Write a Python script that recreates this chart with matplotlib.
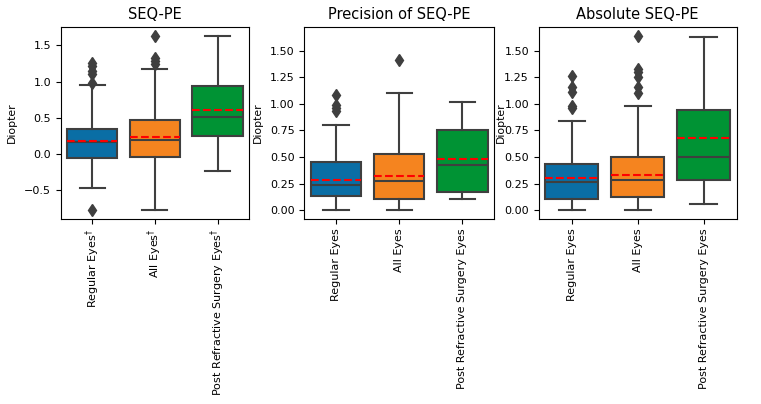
import matplotlib
matplotlib.use("Agg")
import matplotlib.pyplot as plt

# ---- data ----
groups = ["Regular Eyes", "All Eyes", "Post Refractive Surgery Eyes"]
titles = ["SEQ-PE", "Precision of SEQ-PE", "Absolute SEQ-PE"]
colors = ["#0a6ea5", "#f5841f", "#009334"]

# SEQ-PE
seq_q1 = [-0.06, -0.04, 0.25]
seq_med = [0.17, 0.19, 0.51]
seq_q3 = [0.35, 0.47, 0.94]
seq_lo = [-0.47, -0.78, -0.24]
seq_hi = [0.96, 1.17, 1.63]
seq_mean = [0.175, 0.23, 0.61]
seq_fliers = [[-0.78, 0.98, 1.11, 1.15, 1.21, 1.26], [1.25, 1.29, 1.33, 1.63], []]

# Precision of SEQ-PE
prec_q1 = [0.135, 0.11, 0.175]
prec_med = [0.235, 0.275, 0.43]
prec_q3 = [0.455, 0.525, 0.75]
prec_lo = [0.005, 0.0, 0.11]
prec_hi = [0.80, 1.10, 1.02]
prec_mean = [0.29, 0.32, 0.48]
prec_fliers = [[0.93, 0.96, 0.99, 1.08], [1.41], []]

# Absolute SEQ-PE
abs_q1 = [0.105, 0.125, 0.29]
abs_med = [0.27, 0.29, 0.50]
abs_q3 = [0.44, 0.50, 0.94]
abs_lo = [0.0, 0.0, 0.06]
abs_hi = [0.84, 0.98, 1.63]
abs_mean = [0.30, 0.335, 0.675]
abs_fliers = [[0.96, 0.98, 1.11, 1.16, 1.26], [1.10, 1.16, 1.25, 1.30, 1.33, 1.64], []]

# first panel marks every group with a dagger
labels_dagger = [r"$\mathregular{" + g.replace(" ", r"\ ") + r"^{\dagger}}$"
                 for g in groups]


def make_stats(q1, med, q3, lo, hi, mean, fliers):
    out = []
    for i in range(len(q1)):
        out.append(dict(q1=q1[i], med=med[i], q3=q3[i], whislo=lo[i],
                        whishi=hi[i], mean=mean[i], fliers=fliers[i]))
    return out


panels = [
    make_stats(seq_q1, seq_med, seq_q3, seq_lo, seq_hi, seq_mean, seq_fliers),
    make_stats(prec_q1, prec_med, prec_q3, prec_lo, prec_hi, prec_mean, prec_fliers),
    make_stats(abs_q1, abs_med, abs_q3, abs_lo, abs_hi, abs_mean, abs_fliers),
]
xlabels = [labels_dagger, groups, groups]

line_c = "#3f3f3f"
fig = plt.figure(figsize=(7.61, 4.04), dpi=100)
rects = [
    [0.080, 0.458, 0.247, 0.475],
    [0.400, 0.458, 0.249, 0.475],
    [0.708, 0.458, 0.260, 0.475],
]
ylabel_x = [-0.234, -0.221, -0.165]

axes = []
for k, stats in enumerate(panels):
    ax = fig.add_axes(rects[k])
    bp = ax.bxp(
        stats,
        positions=[0, 1, 2],
        widths=0.8,
        showmeans=True,
        meanline=True,
        patch_artist=True,
        boxprops=dict(edgecolor=line_c, linewidth=1.5),
        whiskerprops=dict(color=line_c, linewidth=1.5),
        capprops=dict(color=line_c, linewidth=1.5),
        medianprops=dict(color=line_c, linewidth=1.5),
        meanprops=dict(color="red", linestyle="--", linewidth=1.5),
        flierprops=dict(marker="d", markerfacecolor=line_c,
                        markeredgecolor=line_c, markersize=6),
    )
    for patch, c in zip(bp["boxes"], colors):
        patch.set_facecolor(c)
    ax.set_xlim(-0.5, 2.5)
    ax.set_xticks([0, 1, 2])
    ax.set_xticklabels(xlabels[k], rotation=90, fontsize=8)
    ax.tick_params(axis="y", labelsize=8)
    ax.set_ylabel("Diopter", fontsize=7.8)
    ax.yaxis.set_label_coords(ylabel_x[k], 0.5)
    ax.set_title(titles[k], fontsize=10.5)
    axes.append(ax)

axes[0].set_ylim(-0.90, 1.755)
axes[0].set_yticks([-0.5, 0.0, 0.5, 1.0, 1.5])
for ax in axes[1:]:
    ax.set_ylim(-0.08, 1.72)
    ax.set_yticks([0.0, 0.25, 0.5, 0.75, 1.0, 1.25, 1.5])
    ax.yaxis.set_major_formatter(matplotlib.ticker.FormatStrFormatter("%.2f"))

fig.savefig("out.png", dpi=100)
